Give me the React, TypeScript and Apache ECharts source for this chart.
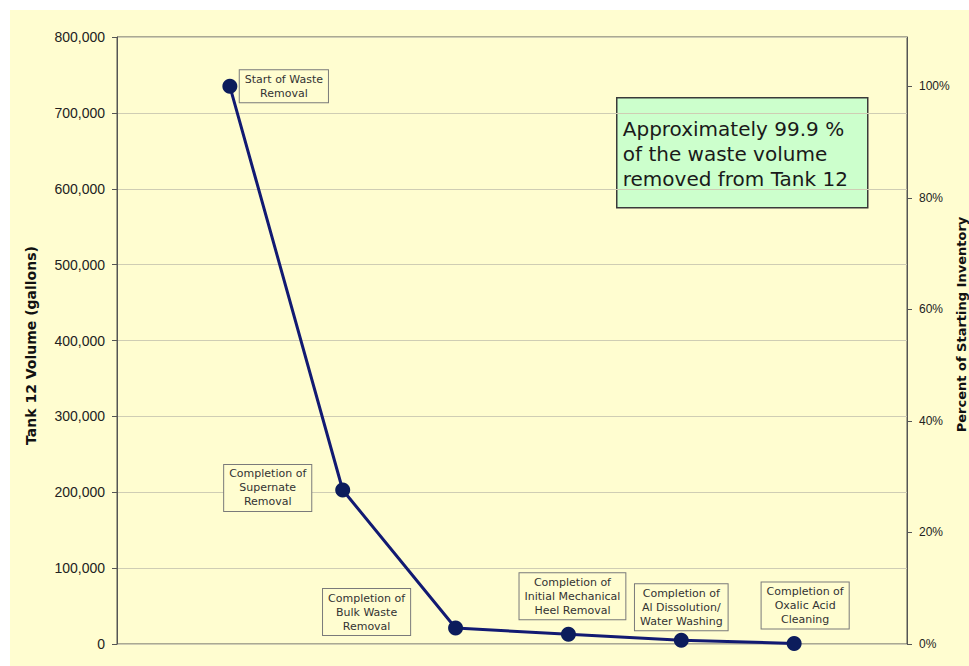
import React, { useEffect, useRef } from "react";
import * as echarts from "echarts";

// ---- Data ----
const stages = [
  "Start of Waste\nRemoval",
  "Completion of\nSupernate\nRemoval",
  "Completion of\nBulk Waste\nRemoval",
  "Completion of\nInitial Mechanical\nHeel Removal",
  "Completion of\nAl Dissolution/\nWater Washing",
  "Completion of\nOxalic Acid\nCleaning",
];
const stageIndex = [1, 2, 3, 4, 5, 6];
const volumes = [735000, 203000, 21000, 13000, 5000, 800];
const volumeMax = 800000;
const volumeStep = 100000;
const percentStep = 20;
const noteLines = [
  "Approximately 99.9 %",
  "of the waste volume",
  "removed from Tank 12",
];
const leftAxisTitle = "Tank 12 Volume (gallons)";
const rightAxisTitle = "Percent of Starting Inventory";

// label placement (styling only)
const labelOffsets = [
  [54, 0],
  [-75, -2],
  [-89, -16],
  [4, -38],
  [0, -33],
  [11, -38],
];

export default function App() {
  const ref = useRef<HTMLDivElement>(null);
  useEffect(() => {
    if (!ref.current) return;
    const chart = echarts.init(ref.current, undefined, { renderer: "svg" });
    const percentMax = (volumeMax / volumes[0]) * 100;
    const bg = "#FFFDD0";
    const option: any = {
      animation: false,
      backgroundColor: bg,
      grid: {
        left: 107,
        top: 27,
        right: 62,
        bottom: 22,
        containLabel: false,
        outerBoundsMode: "none",
        show: true,
        borderColor: "#555",
        borderWidth: 1,
        backgroundColor: "transparent",
      },
      xAxis: {
        type: "value",
        min: 0,
        max: 7,
        show: false,
      },
      yAxis: [
        {
          type: "value",
          min: 0,
          max: volumeMax,
          interval: volumeStep,
          name: leftAxisTitle,
          nameLocation: "middle",
          nameGap: 79,
          nameRotate: 90,
          nameMoveOverlap: false,
          nameTextStyle: {
            fontFamily: "DejaVu Sans",
            fontWeight: "bold",
            fontSize: 14,
            color: "#111",
            padding: [0, 10, 0, 0],
          },
          axisLine: { show: true, lineStyle: { color: "#555", width: 1 } },
          axisTick: { show: true, length: 5, lineStyle: { color: "#555" } },
          axisLabel: {
            margin: 12,
            fontFamily: "Liberation Sans",
            fontSize: 14,
            color: "#222",
            formatter: (v: number) => v.toLocaleString("en-US"),
          },
          splitLine: { show: true, lineStyle: { color: "#cfcdb4", width: 1 } },
        },
        {
          type: "value",
          min: 0,
          max: percentMax,
          interval: percentStep,
          position: "right",
          name: rightAxisTitle,
          nameLocation: "middle",
          nameGap: 48,
          nameRotate: 90,
          nameMoveOverlap: false,
          nameTextStyle: {
            fontFamily: "DejaVu Sans",
            fontWeight: "bold",
            fontSize: 13,
            color: "#111",
            padding: [0, 0, 0, 32],
          },
          axisLine: { show: true, lineStyle: { color: "#555", width: 1 } },
          axisTick: { show: true, length: 5, lineStyle: { color: "#555" } },
          axisLabel: {
            margin: 12,
            fontFamily: "Liberation Sans",
            fontSize: 12,
            color: "#222",
            showMaxLabel: false,
            formatter: (v: number) =>
              Math.abs(v % percentStep) < 1e-6 ? v + "%" : "",
          },
          splitLine: { show: false },
        },
      ],
      series: [
        {
          type: "line",
          yAxisIndex: 0,
          data: stageIndex.map((x, i) => ({
            value: [x, volumes[i]],
            label: {
              show: true,
              position: "inside",
              offset: labelOffsets[i],
              formatter: stages[i],
            },
          })),
          symbol: "circle",
          symbolSize: 15,
          itemStyle: { color: "#0c1c5c" },
          lineStyle: { color: "#121a72", width: 3 },
          label: {
            show: true,
            backgroundColor: bg,
            borderColor: "#7a7a7a",
            borderWidth: 1,
            padding: [2, 5, 2, 5],
            fontFamily: "DejaVu Sans",
            fontSize: 11,
            lineHeight: 14,
            color: "#333",
            align: "center",
          },
          z: 3,
        },
      ],
      graphic: [
        {
          type: "group",
          left: 606,
          top: 87,
          children: [
            {
              type: "rect",
              shape: { x: 0, y: 0, width: 251, height: 110 },
              style: { fill: "#CCFFCC", stroke: "#3a3a3a", lineWidth: 1.5 },
            },
            {
              type: "text",
              x: 6,
              y: 19,
              style: {
                text: noteLines.join("\n"),
                fontFamily: "DejaVu Sans",
                fontSize: 20,
                lineHeight: 25,
                fill: "#1a1a1a",
                textAlign: "left",
                textVerticalAlign: "top",
              },
            },
          ],
        },
      ],
    };
    chart.setOption(option);
    return () => chart.dispose();
  }, []);

  return (
    <div
      style={{
        position: "fixed",
        left: 0,
        top: 0,
        width: 969,
        height: 666,
        background: "#ffffff",
      }}
    >
      <div
        ref={ref}
        style={{ position: "absolute", left: 10, top: 10, width: 959, height: 656 }}
      />
    </div>
  );
}
